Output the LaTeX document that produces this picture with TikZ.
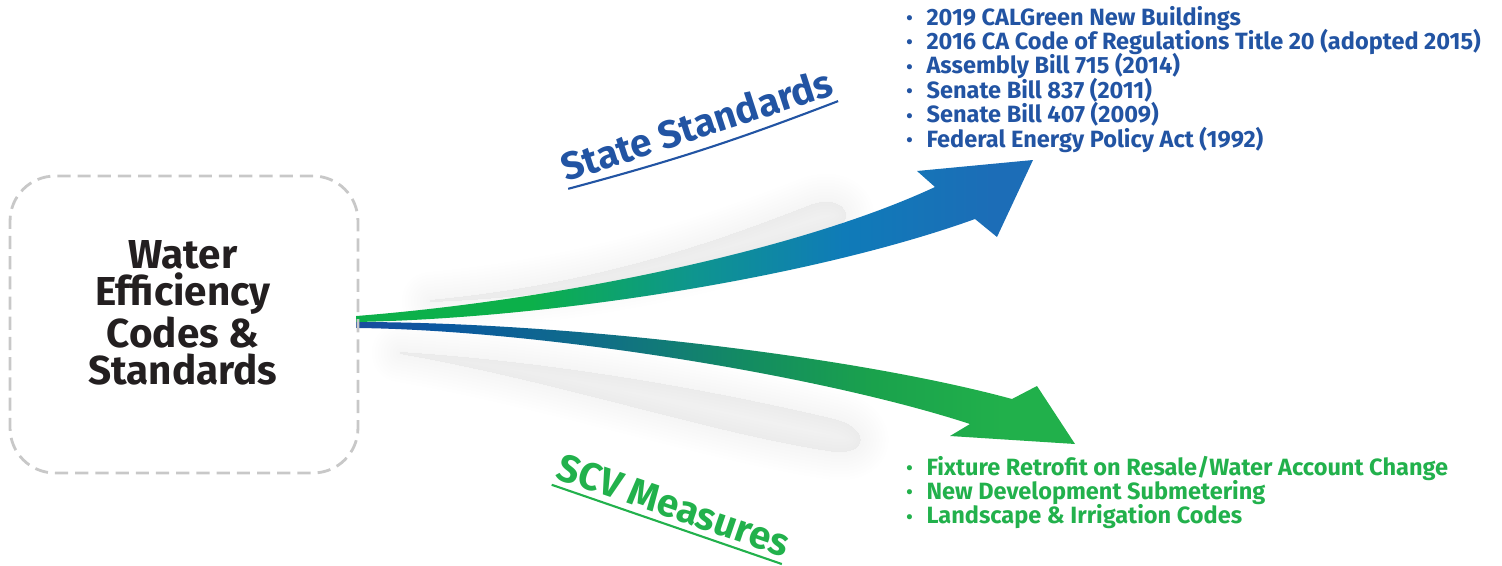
\documentclass[tikz,border=0pt]{standalone}
\usepackage{fontspec}
\setmainfont{Fira Sans}

\definecolor{framegray}{HTML}{C8C8C8}
\definecolor{titleblack}{HTML}{231F20}
\definecolor{stdblue}{HTML}{2254A3}
\definecolor{scvgreen}{HTML}{22B14C}
\definecolor{flowgreen}{HTML}{0CB04A}
\definecolor{flowteal}{HTML}{0E958F}
\definecolor{flowblue}{HTML}{0F7BB8}
\definecolor{flowblueend}{HTML}{1C6DB7}
\definecolor{scvdark}{HTML}{1A4C9E}
\definecolor{scvmid}{HTML}{0A58A0}
\definecolor{scvteal}{HTML}{106E87}
\definecolor{scvsea}{HTML}{138B62}
\definecolor{scvleaf}{HTML}{1AA24C}
\definecolor{scvend}{HTML}{21B04B}

% colour runs along the two arrows
\pgfdeclarehorizontalshading{stateflow}{100bp}{color(0bp)=(flowgreen); color(25bp)=(flowgreen); color(38bp)=(flowgreen); color(50bp)=(flowteal); color(61bp)=(flowblue); color(72bp)=(flowblueend); color(100bp)=(flowblueend)}
\pgfdeclarehorizontalshading{scvflow}{100bp}{color(0bp)=(scvdark); color(25bp)=(scvdark); color(31bp)=(scvmid); color(42bp)=(scvteal); color(52bp)=(scvsea); color(61bp)=(scvleaf); color(70bp)=(scvend); color(100bp)=(scvend)}

\newcommand{\listdot}{\makebox[11.5pt][l]{\raisebox{0.3pt}{\fontsize{10.5}{10}\selectfont\textbullet}}}

\tikzset{
  codebox/.style={draw=framegray, line width=1.6pt, dash pattern=on 7.5pt off 4pt,
    rounded corners=0.9cm, minimum width=6.96cm, minimum height=5.94cm},
  codetitle/.style={font=\fontsize{23}{21.2}\selectfont\bfseries, text=titleblack, align=center},
  stdlist/.style={font=\fontsize{13.4}{14}\selectfont\bfseries, text=stdblue, anchor=base west, inner sep=0pt},
  scvlist/.style={stdlist, text=scvgreen},
  banner/.style={font=\fontsize{22}{24}\selectfont\bfseries, anchor=base west, inner xsep=0pt, inner ysep=3.5pt},
  haze/.style={fill=black, draw=black, opacity=0.0045, line join=round},
}

\begin{document}
\begin{tikzpicture}[x=0.02cm,y=-0.02cm]
  \useasboundingbox (0,0) rectangle (1502,565);

  % soft shadows behind the arrows
  \foreach \lw in {2,8,...,56}{
    \path[haze, line width=\lw*0.57pt]
      (430,300) .. controls (600,284) and (720,240) .. (810,205)
      .. controls (845,192) and (860,222) .. (830,230)
      .. controls (720,262) and (600,296) .. (430,302) -- cycle;
    \path[haze, line width=\lw*0.57pt]
      (400,352) .. controls (560,362) and (720,392) .. (830,418)
      .. controls (870,426) and (870,455) .. (835,452)
      .. controls (720,436) and (560,382) .. (400,354) -- cycle;
  }

  \coordinate (fork) at (356,322);
  \coordinate (statetip) at (1033,160);
  \coordinate (scvtip) at (1075,444);

  \shade[shading=stateflow] ([yshift=3.4pt]fork) .. controls (560,300) and (800,250) .. (935,187)
    -- (917,171) -- (statetip) -- (997,237) -- (975,219)
    .. controls (820,275) and (560,318) .. (fork) -- cycle;
  \shade[shading=scvflow] (fork) .. controls (560,322) and (850,355) .. (1012,399)
    -- (1037,386) -- (scvtip) -- (950,436) -- (970,424)
    .. controls (820,375) and (540,330) .. ([yshift=-3.4pt]fork) -- cycle;

  \node[codebox] (box) at (184,324.5) {};
  \node[codetitle] (title) at (183,313) {Water\\Efficiency\\Codes \&\\Standards};

  \node[banner, text=stdblue, rotate=18] (stlabel) at (566,182) {State Standards};
  \draw[stdblue, line width=1.2pt] (stlabel.south west) to[bend right=3] (stlabel.south east);
  \node[banner, text=scvgreen, rotate=-19] (scvlabel) at (554,478) {SCV Measures};
  \draw[scvgreen, line width=1.2pt] (scvlabel.south west) -- (scvlabel.south east);

  \foreach \txt [count=\i] in {2019 CALGreen New Buildings,
      2016 CA Code of Regulations Title 20 (adopted 2015),
      Assembly Bill 715 (2014), Senate Bill 837 (2011),
      Senate Bill 407 (2009), Federal Energy Policy Act (1992)}
    \node[stdlist] (std\i) at (906,{25+24.4*(\i-1)}) {\listdot\txt};

  \foreach \txt [count=\i] in {Fixture Retrofit on Resale/Water Account Change,
      New Development Submetering, Landscape \& Irrigation Codes}
    \node[scvlist] (scv\i) at (906,{475+24.4*(\i-1)}) {\listdot\txt};
\end{tikzpicture}
\end{document}
